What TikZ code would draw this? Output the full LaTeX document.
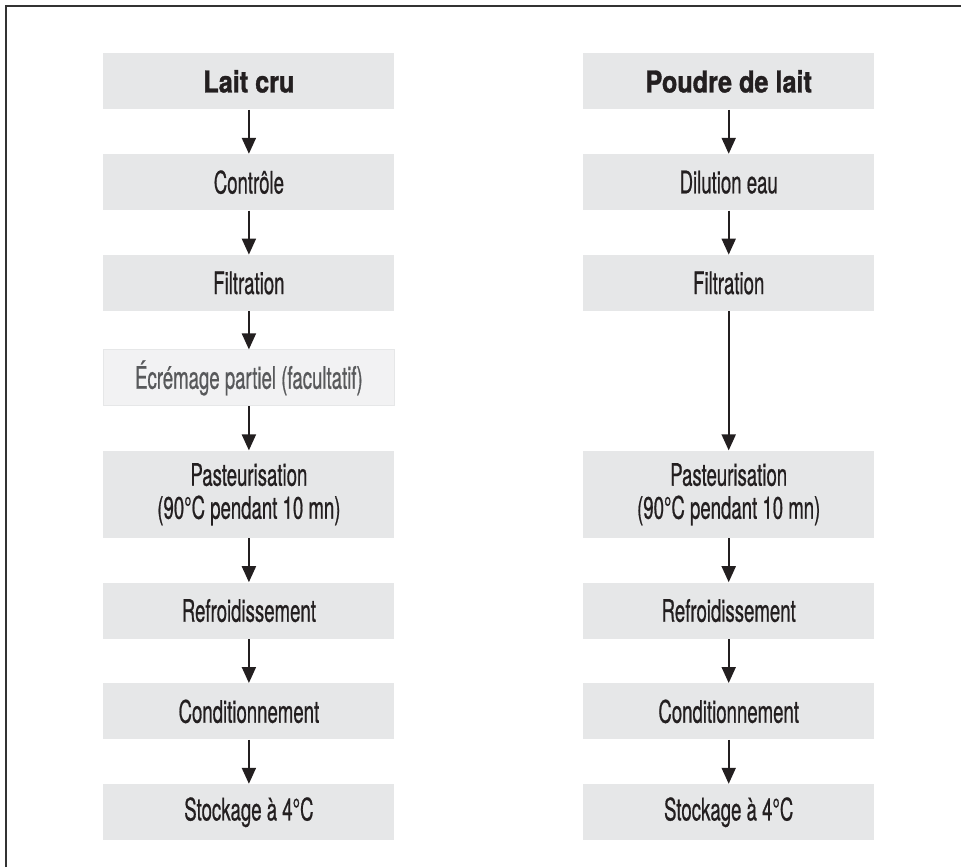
\documentclass[tikz,border=0pt]{standalone}
\usepackage{fontspec}
\setmainfont{TeX Gyre Heros}[FakeStretch=0.6, FakeBold=0.6]
\newfontfamily\titrefont{TeX Gyre Heros}[FakeStretch=0.84, FakeBold=1.2]
\usetikzlibrary{arrows.meta, positioning}
\definecolor{boxgray}{RGB}{230,231,232}
\definecolor{boxlight}{RGB}{242,242,243}
\definecolor{inkblack}{RGB}{35,31,32}
\definecolor{inkgray}{RGB}{88,89,91}
\definecolor{framegray}{RGB}{51,51,51}

\begin{document}
\begin{tikzpicture}[
    node distance=22pt,
    etape/.style={
        rectangle,
        fill=boxgray,
        text=inkblack,
        minimum width=145.5pt,
        minimum height=28pt,
        inner sep=0pt,
        align=center,
        font=\fontsize{15.5}{16.5}\selectfont
    },
    titre/.style={
        etape,
        font=\titrefont\bfseries\fontsize{15}{16.5}\selectfont
    },
    option/.style={
        etape,
        fill=boxlight,
        draw=boxgray,
        line width=0.5pt,
        text=inkgray
    },
    longue/.style={
        etape,
        minimum height=43.5pt
    },
    arrow/.style={
        -{Triangle[width=7pt,length=8pt]},
        line width=1pt,
        draw=inkblack
    }
]
    \useasboundingbox (0,0) rectangle (480.5pt,-433.5pt);

    % cadre (haut et gauche seulement)
    \draw[line width=1pt, framegray] (3pt,-433.5pt) |- (480.5pt,-3.2pt);

    % colonne gauche : lait cru
    \node (laitcru) [titre, anchor=north west] at (51.5pt,-26.5pt) {Lait cru};
    \node (controle) [etape, below=of laitcru] {Contrôle};
    \node (filtreA) [etape, below=of controle] {Filtration};
    \node (ecremage) [option, below=19pt of filtreA] {Écrémage partiel (facultatif)};
    \node (pastA) [longue, below=of ecremage] {Pasteurisation\\(90°C pendant 10 mn)};
    \node (refroidA) [etape, below=of pastA] {Refroidissement};
    \node (condA) [etape, below=of refroidA] {Conditionnement};
    \node (stockA) [etape, below=of condA] {Stockage à 4°C};

    % colonne droite : poudre de lait
    \node (poudre) [titre, right=94pt of laitcru] {Poudre de lait};
    \node (dilution) [etape, right=94pt of controle] {Dilution eau};
    \node (filtreB) [etape, right=94pt of filtreA] {Filtration};
    \node (pastB) [longue, right=94pt of pastA] {Pasteurisation\\(90°C pendant 10 mn)};
    \node (refroidB) [etape, right=94pt of refroidA] {Refroidissement};
    \node (condB) [etape, right=94pt of condA] {Conditionnement};
    \node (stockB) [etape, right=94pt of stockA] {Stockage à 4°C};

    % fleches
    \draw[arrow] (laitcru) -- (controle);
    \draw[arrow] (controle) -- (filtreA);
    \draw[arrow] (filtreA) -- (ecremage);
    \draw[arrow] (ecremage) -- (pastA);
    \draw[arrow] (pastA) -- (refroidA);
    \draw[arrow] (refroidA) -- (condA);
    \draw[arrow] (condA) -- (stockA);

    \draw[arrow] (poudre) -- (dilution);
    \draw[arrow] (dilution) -- (filtreB);
    \draw[arrow] (filtreB) -- (pastB);
    \draw[arrow] (pastB) -- (refroidB);
    \draw[arrow] (refroidB) -- (condB);
    \draw[arrow] (condB) -- (stockB);

\end{tikzpicture}
\end{document}
